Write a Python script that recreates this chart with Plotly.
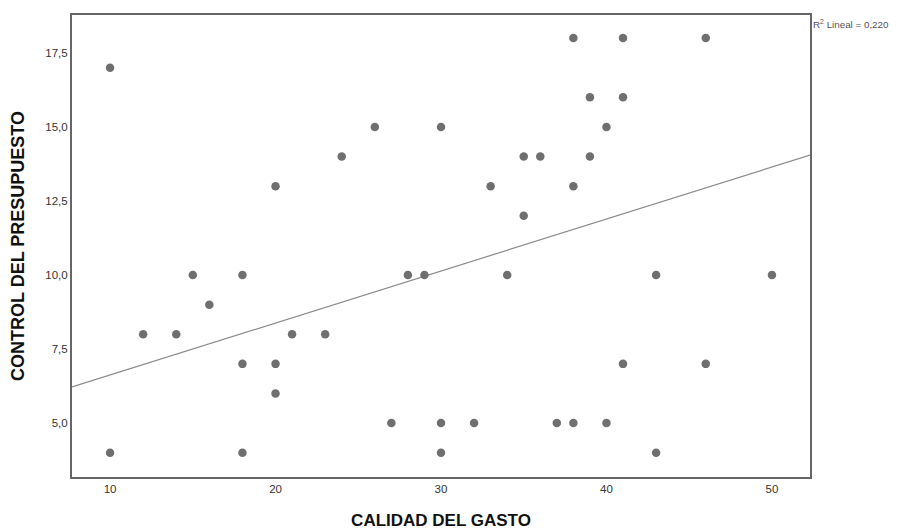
import plotly.graph_objects as go

calidad_gasto = [10, 10, 12, 14, 15, 16, 18, 18, 18, 20, 20, 20, 21, 23, 24, 26, 27, 28, 29,
                 30, 30, 30, 32, 33, 34, 35, 35, 36, 37, 38, 38, 38, 39, 39, 40, 40, 41, 41,
                 41, 43, 43, 46, 46, 50]
control_presupuesto = [17, 4, 8, 8, 10, 9, 10, 7, 4, 13, 7, 6, 8, 8, 14, 15, 5, 10, 10,
                       15, 5, 4, 5, 13, 10, 14, 12, 14, 5, 18, 13, 5, 16, 14, 15, 5, 18, 16,
                       7, 10, 4, 18, 7, 10]
x_ticks = [10, 20, 30, 40, 50]
y_ticks = [5.0, 7.5, 10.0, 12.5, 15.0, 17.5]
y_tick_labels = ["5,0", "7,5", "10,0", "12,5", "15,0", "17,5"]
r2_label = "R<sup>2</sup> Lineal = 0,220"

# linear fit line (SPSS fit includes overlapping cases)
fit_intercept = 4.87
fit_slope = 0.1755

x_range = [7.7, 52.3]
y_range = [3.18, 18.78]

fit_x = list(x_range)
fit_y = [fit_intercept + fit_slope * v for v in fit_x]

fig = go.Figure()
fig.add_trace(go.Scatter(
    x=fit_x, y=fit_y, mode="lines",
    line=dict(color="#8a8a8a", width=1.2),
    hoverinfo="skip", showlegend=False,
))
fig.add_trace(go.Scatter(
    x=calidad_gasto, y=control_presupuesto, mode="markers",
    marker=dict(size=8.5, color="#6f6f6f", line=dict(width=0)),
    showlegend=False,
))

font_family = "Liberation Sans, Arial, sans-serif"
fig.update_layout(
    width=892, height=522,
    margin=dict(l=64, r=90, t=7, b=53, autoexpand=False),
    paper_bgcolor="white", plot_bgcolor="white",
    font=dict(family=font_family, color="#333333"),
    xaxis=dict(
        range=x_range, tickvals=x_ticks, ticktext=[str(v) for v in x_ticks],
        showgrid=False, zeroline=False, ticks="",
        showline=True, mirror=True, linecolor="#666666", linewidth=2,
        tickfont=dict(size=11.5, color="#333333"),
        title=dict(text="<b>CALIDAD DEL GASTO</b>", font=dict(size=17, color="#111111"), standoff=20),
    ),
    yaxis=dict(
        range=y_range, tickvals=y_ticks, ticktext=y_tick_labels,
        showgrid=False, zeroline=False, ticks="",
        showline=True, mirror=True, linecolor="#666666", linewidth=2,
        tickfont=dict(size=11.5, color="#333333"),
        title=dict(text="<b>CONTROL DEL PRESUPUESTO</b>", font=dict(size=18, color="#111111"), standoff=22),
    ),
    annotations=[dict(
        text=r2_label, xref="paper", yref="paper", x=1.0, y=1.0,
        xanchor="left", yanchor="top", xshift=1, yshift=-1, showarrow=False,
        font=dict(size=9.8, color="#555555"),
    )],
)

fig.write_html("out.html")
